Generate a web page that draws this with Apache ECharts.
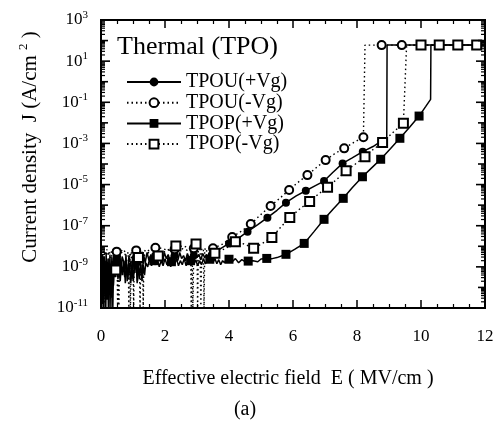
<!DOCTYPE html>
<html>
<head>
<meta charset="utf-8">
<script src="https://cdn.jsdelivr.net/npm/echarts@6/dist/echarts.min.js"></script>
<style>html,body{margin:0;padding:0;background:#fff}#c{width:500px;height:422px}</style>
</head>
<body>
<div id="c"></div>
<script>
// ---- Data: pairs of [E (MV/cm), log10 J (A/cm^2)] ----
const seriesNames = ['TPOU(+Vg)', 'TPOU(-Vg)', 'TPOP(+Vg)', 'TPOP(-Vg)'];
const xTickLabels = [0, 2, 4, 6, 8, 10, 12];

// TPOU(+Vg)
const tpouPosCurve = [[0.0,-8.6],[0.02,-11],[0.05,-8.4],[0.07,-10.6],[0.1,-8.5],[0.13,-11],[0.16,-8.3],[0.19,-10],[0.22,-8.6],[0.25,-11],[0.28,-8.4],[0.31,-10.4],[0.34,-8.5],[0.37,-11],[0.4,-8.4],[0.43,-9.2],[0.47,-8.6],[0.53,-9.6],[0.57,-8.4],[0.62,-9.4],[0.66,-8.5],[0.7,-8.7],[0.74,-9.5],[0.78,-8.4],[0.82,-9.7],[0.87,-8.5],[0.92,-8.8],[0.97,-9.6],[1.02,-8.4],[1.06,-9.3],[1.14,-9.7],[1.18,-8.5],[1.23,-8.9],[1.28,-9.5],[1.33,-8.4],[1.38,-8.8],[1.44,-8.3],[1.5,-8.7],[1.56,-8.4],[1.62,-8.8],[1.66,-8.5],[1.75,-8.3],[1.8,-8.7],[1.86,-8.4],[1.92,-8.8],[1.98,-8.3],[2.04,-8.6],[2.1,-8.4],[2.16,-8.75],[2.22,-8.35],[2.27,-8.6],[2.35,-8.4],[2.4,-8.7],[2.46,-8.3],[2.52,-8.6],[2.58,-8.45],[2.64,-8.7],[2.7,-8.35],[2.76,-8.6],[2.82,-8.4],[2.86,-8.6],[2.95,-8.3],[3.0,-8.55],[3.06,-8.4],[3.12,-8.65],[3.18,-8.35],[3.24,-8.55],[3.3,-8.4],[3.36,-8.6],[3.41,-8.45],[3.52,-8.35],[3.6,-8.25],[3.7,-8.15],[3.8,-8.05],[3.9,-7.95],[4.3,-7.6],[4.9,-6.95],[5.5,-6.25],[6.1,-5.55],[6.7,-5.05],[7.25,-4.4],[7.85,-3.7],[8.5,-3.15],[8.93,-2.75],[8.94,1.78],[12,1.78]];
const tpouPosMarks = [[0.5,-8.5],[1.1,-8.5],[1.7,-8.45],[2.3,-8.45],[2.9,-8.45],[3.46,-8.42],[4.0,-7.86],[4.58,-7.29],[5.2,-6.61],[5.78,-5.88],[6.4,-5.3],[6.97,-4.83],[7.55,-3.97],[8.18,-3.4],[8.77,-2.88]];

// TPOU(-Vg)
const tpouNegCurve = [[0.0,-8.3],[0.06,-8.05],[0.12,-8.4],[0.18,-8.15],[0.24,-8.45],[0.3,-8.2],[0.36,-8.4],[0.42,-8.15],[0.55,-8.2],[0.56,-11],[0.58,-8.3],[0.7,-8.15],[0.78,-8.35],[0.9,-8.3],[0.92,-11],[0.95,-8.25],[1.05,-8.2],[1.2,-8.3],[1.22,-11],[1.25,-8.2],[1.32,-8.35],[1.4,-8.15],[1.55,-8.25],[1.9,-8.1],[2.1,-8.2],[2.5,-8.1],[2.7,-8.2],[2.85,-8.15],[2.87,-11],[2.9,-8.2],[3.1,-8.15],[3.12,-11],[3.15,-8.1],[3.3,-8.15],[3.8,-7.9],[4.4,-7.25],[5.0,-6.45],[5.6,-5.65],[6.15,-4.9],[6.75,-4.15],[7.3,-3.5],[7.9,-2.95],[8.25,1.78],[12,1.78]];
const tpouNegMarks = [[0.49,-8.26],[1.1,-8.2],[1.7,-8.07],[2.3,-8.15],[2.9,-8.1],[3.5,-8.1],[4.1,-7.55],[4.68,-6.92],[5.3,-6.04],[5.88,-5.26],[6.45,-4.54],[7.02,-3.81],[7.6,-3.24],[8.2,-2.7],[8.77,1.78],[9.4,1.78]];

// TPOP(+Vg)
const tpopPosCurve = [[0.0,-8.9],[0.015,-11],[0.03,-8.7],[0.045,-10.8],[0.06,-8.8],[0.08,-11],[0.1,-8.9],[0.115,-10.3],[0.13,-8.7],[0.15,-11],[0.17,-8.9],[0.19,-10.6],[0.21,-8.8],[0.23,-11],[0.25,-8.6],[0.27,-10.2],[0.29,-8.9],[0.31,-11],[0.33,-8.8],[0.35,-10.5],[0.37,-8.7],[0.39,-9.9],[0.42,-8.8],[0.45,-9.5],[0.55,-8.9],[0.6,-9.7],[0.64,-8.8],[0.68,-9.4],[0.72,-8.7],[0.76,-9.8],[0.8,-8.9],[0.84,-9.6],[0.88,-8.8],[0.93,-9.8],[0.97,-8.7],[1.01,-9.7],[1.05,-8.9],[1.13,-9.8],[1.16,-8.8],[1.2,-9.6],[1.24,-8.7],[1.28,-9.7],[1.32,-8.9],[1.36,-9.4],[1.4,-8.8],[1.46,-9.0],[1.52,-8.6],[1.58,-8.95],[1.62,-8.7],[1.7,-8.9],[1.76,-8.6],[1.82,-9.0],[1.88,-8.7],[1.94,-8.95],[2.0,-8.6],[2.06,-8.9],[2.12,-8.65],[2.18,-9.0],[2.25,-8.7],[2.3,-8.9],[2.36,-8.6],[2.42,-8.95],[2.48,-8.7],[2.54,-8.9],[2.6,-8.6],[2.66,-8.95],[2.72,-8.7],[2.85,-8.6],[2.9,-8.9],[2.96,-8.65],[3.02,-8.95],[3.08,-8.7],[3.14,-8.9],[3.2,-8.6],[3.26,-8.85],[3.32,-8.7],[3.5,-8.8],[3.56,-8.6],[3.62,-8.85],[3.68,-8.65],[3.74,-8.9],[3.8,-8.7],[3.86,-8.8],[3.92,-8.6],[4.1,-8.75],[4.2,-8.6],[4.3,-8.8],[4.4,-8.65],[4.5,-8.75],[4.75,-8.7],[4.9,-8.75],[5.0,-8.62],[5.35,-8.6],[5.5,-8.55],[6.05,-8.15],[6.65,-7.3],[7.25,-6.2],[7.85,-5.15],[8.45,-4.2],[9.05,-3.25],[9.65,-2.2],[10.15,-1.2],[10.3,-0.86],[10.31,1.78],[12,1.78]];
const tpopPosMarks = [[0.5,-8.8],[1.1,-8.7],[1.65,-8.7],[2.2,-8.75],[2.8,-8.7],[3.4,-8.63],[4.0,-8.63],[4.6,-8.72],[5.18,-8.59],[5.78,-8.39],[6.35,-7.86],[6.97,-6.69],[7.57,-5.67],[8.17,-4.62],[8.74,-3.77],[9.34,-2.75],[9.94,-1.67]];

// TPOP(-Vg)
const tpopNegCurve = [[0.0,-8.5],[0.08,-8.2],[0.15,-8.45],[0.22,-8.25],[0.3,-8.6],[0.38,-8.3],[0.5,-8.4],[0.52,-11],[0.55,-8.5],[0.62,-8.25],[0.7,-8.4],[0.85,-8.4],[0.87,-11],[0.89,-8.35],[1.0,-8.5],[1.02,-11],[1.04,-8.4],[1.3,-8.4],[1.32,-11],[1.34,-8.45],[1.5,-8.3],[2.0,-8.25],[2.6,-8.0],[2.8,-8.1],[2.82,-11],[2.84,-8.0],[3.0,-8.05],[3.02,-11],[3.04,-8.1],[3.2,-8.2],[3.22,-11],[3.24,-8.2],[3.9,-8.1],[4.5,-7.9],[5.1,-7.8],[5.6,-7.1],[6.2,-6.2],[6.8,-5.45],[7.4,-4.7],[7.95,-4.0],[8.5,-3.3],[9.1,-2.5],[9.55,1.78],[12,1.78]];
const tpopNegMarks = [[0.46,-9.15],[1.17,-8.54],[1.79,-8.47],[2.34,-7.99],[2.97,-7.89],[3.56,-8.34],[4.2,-7.78],[4.77,-8.1],[5.34,-7.57],[5.9,-6.6],[6.52,-5.82],[7.08,-5.13],[7.66,-4.33],[8.25,-3.65],[8.8,-2.96],[9.45,-2.02],[10.0,1.78],[10.57,1.78],[11.15,1.78],[11.74,1.78]];

// ---- build ----
const FONT = 'Liberation Serif';
function build(curve, marks) {
  const pts = curve.map(p => ({ e: p[0], l: p[1], m: false }))
    .concat(marks.map(p => ({ e: p[0], l: p[1], m: true })));
  pts.sort((a, b) => a.e - b.e);
  return pts.map(p => p.m ? { value: [p.e, Math.pow(10, p.l)] }
                          : { value: [p.e, Math.pow(10, p.l)], symbol: 'none' });
}
const solid = { color: '#000', width: 1.5, type: 'solid' };
const dotted = { color: '#000', width: 1.4, type: [1.5, 3] };

const lineSeries = [
  { name: seriesNames[0], data: build(tpouPosCurve, tpouPosMarks),
    symbol: 'circle', symbolSize: 8, lineStyle: solid, itemStyle: { color: '#000' } },
  { name: seriesNames[1], data: build(tpouNegCurve, tpouNegMarks),
    symbol: 'emptyCircle', symbolSize: 8, lineStyle: dotted, itemStyle: { color: '#000', borderWidth: 1.4 } },
  { name: seriesNames[2], data: build(tpopPosCurve, tpopPosMarks),
    symbol: 'rect', symbolSize: 9, lineStyle: solid, itemStyle: { color: '#000' } },
  { name: seriesNames[3], data: build(tpopNegCurve, tpopNegMarks),
    symbol: 'emptyRect', symbolSize: 9, lineStyle: dotted, itemStyle: { color: '#000', borderWidth: 1.4 } }
].map(s => Object.assign({ type: 'line', showSymbol: true, showAllSymbol: true, clip: true,
                           animation: false, z: 3 }, s));

// y tick positions: decades and 2..9 minors, placed via the log axis
const yMinExp = -11, yMaxExp = 3;
const yTickVals = [];
for (let e = yMinExp; e <= yMaxExp; e++) {
  for (let m = 1; m <= 9; m++) {
    if (e === yMaxExp && m > 1) break;
    yTickVals.push([6, m * Math.pow(10, e)]);
  }
}
const yLabelExps = [];
for (let e = yMinExp; e <= yMaxExp; e += 2) yLabelExps.push(e);

const tickSeries = {
  type: 'custom', silent: true, animation: false, z: 4, clip: false,
  data: yTickVals,
  renderItem: function (params, api) {
    const v = api.value(1);
    const pl = api.coord([0, v]);
    const pr = api.coord([12, v]);
    const e = Math.log10(v);
    const re = Math.round(e);
    const decade = Math.abs(e - re) < 1e-6;
    const len = decade ? ((re % 2 !== 0) ? 9 : 7) : 4;
    const st = { stroke: '#000', lineWidth: decade ? 1.6 : 1.2 };
    const children = [
      { type: 'line', shape: { x1: pl[0], y1: pl[1], x2: pl[0] + len, y2: pl[1] }, style: st },
      { type: 'line', shape: { x1: pr[0], y1: pr[1], x2: pr[0] - len, y2: pr[1] }, style: st }
    ];
    if (decade && yLabelExps.indexOf(re) >= 0) {
      children.push({ type: 'text', x: pl[0] - 13, y: pl[1],
        style: { text: '{b|10}{s|' + re + '}', align: 'right', verticalAlign: 'middle',
          rich: { b: { fontFamily: FONT, fontSize: 17, fill: '#000' },
                  s: { fontFamily: FONT, fontSize: 11, fill: '#000', padding: [0, 0, 10, 0] } } } });
    }
    return { type: 'group', children: children };
  }
};

const chart = echarts.init(document.getElementById('c'), null, { renderer: 'canvas' });
const xAxisBase = {
  type: 'value', min: 0, max: 12, interval: 2,
  axisLine: { lineStyle: { color: '#000', width: 2 } },
  axisTick: { inside: true, length: 8, lineStyle: { color: '#000', width: 1.5 } },
  minorTick: { show: true, splitNumber: 4, length: 4, lineStyle: { color: '#000', width: 1.2 } },
  splitLine: { show: false }
};
chart.setOption({
  animation: false,
  backgroundColor: '#fff',
  grid: { left: 101, right: 15, top: 20, bottom: 114, show: true, borderColor: '#000', borderWidth: 2 },
  xAxis: [
    Object.assign({}, xAxisBase, {
      position: 'bottom',
      axisLabel: { color: '#000', fontFamily: FONT, fontSize: 17, margin: 20,
                   formatter: v => xTickLabels.indexOf(v) >= 0 ? String(v) : '' }
    }),
    Object.assign({}, xAxisBase, { position: 'top', axisLabel: { show: false } })
  ],
  yAxis: [{
    type: 'log', logBase: 10, min: 1e-11, max: 1e3,
    axisLine: { lineStyle: { color: '#000', width: 2 } },
    axisTick: { show: false },
    splitLine: { show: false },
    axisLabel: { show: false }
  }],
  legend: {
    data: seriesNames, orient: 'vertical', left: 126, top: 72, padding: 0,
    itemWidth: 54, itemHeight: 11, itemGap: 0.7,
    textStyle: { fontFamily: FONT, fontSize: 20, color: '#000', lineHeight: 19 },
    inactiveColor: '#000', selectedMode: false
  },
  graphic: [
    { type: 'text', left: 117, top: 34,
      style: { text: 'Thermal (TPO)', font: '26px "Liberation Serif"', fill: '#000' } },
    { type: 'text', x: 30, y: 147, rotation: Math.PI / 2,
      style: { text: '{t|Current density  J (A/cm }{s|2}{t| )}', align: 'center', verticalAlign: 'middle',
               rich: { t: { fontFamily: FONT, fontSize: 21, fill: '#000' },
                       s: { fontFamily: FONT, fontSize: 13, fill: '#000', padding: [0, 0, 12, 0] } } } },
    { type: 'text', x: 288, y: 379,
      style: { text: 'Effective electric field  E ( MV/cm )', font: '20px "Liberation Serif"', fill: '#000',
               align: 'center', verticalAlign: 'middle' } },
    { type: 'text', x: 245, y: 410,
      style: { text: '(a)', font: '20px "Liberation Serif"', fill: '#000', align: 'center', verticalAlign: 'middle' } }
  ],
  series: lineSeries.concat([tickSeries])
});
</script>
</body>
</html>
